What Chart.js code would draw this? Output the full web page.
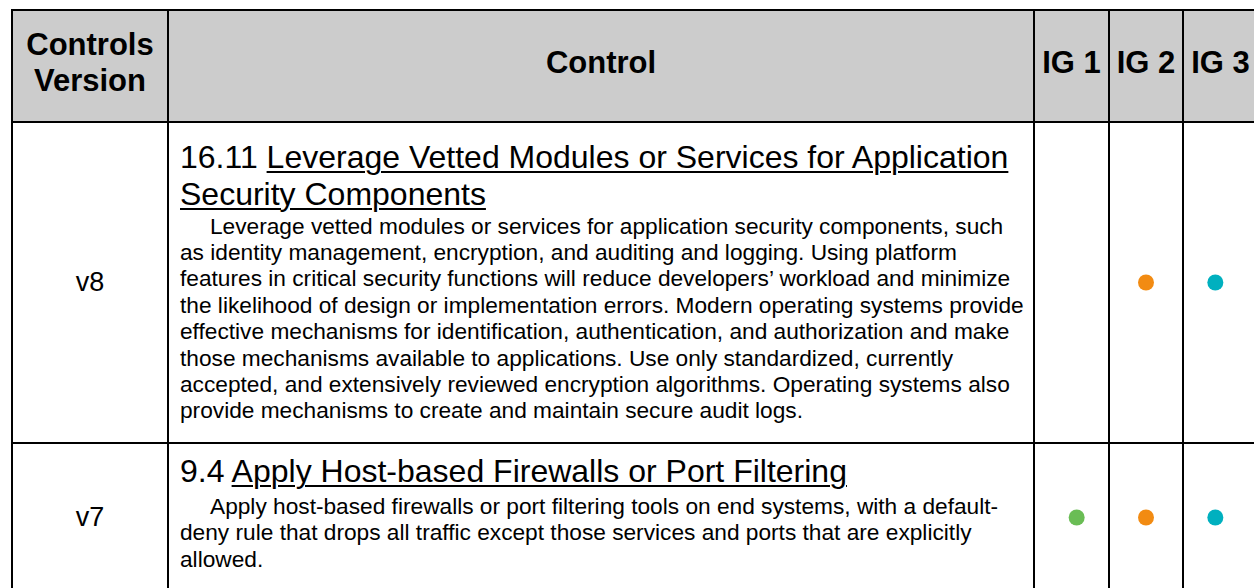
<!DOCTYPE html>
<html>
<head>
<meta charset="utf-8">
<script src="https://cdn.jsdelivr.net/npm/chart.js@4"></script>
<style>
  html, body { margin:0; padding:0; background:#fff; }
  body { width:1254px; height:588px; overflow:hidden; position:relative; font-family:"Liberation Sans", Arial, sans-serif; color:#000; }
  .bg { position:absolute; background:#cccccc; }
  .vline { position:absolute; width:2px; background:#000; }
  .hline { position:absolute; height:2px; background:#000; }
  .cell { position:absolute; box-sizing:border-box; }
  .hdr { display:flex; align-items:center; justify-content:center; text-align:center; font-weight:bold; font-size:31px; line-height:35.6px; padding-bottom:6px; }
  .ver { display:flex; align-items:center; justify-content:center; font-size:27px; }
  .ctl { padding-left:12px; white-space:nowrap; }
  .ttl { font-size:32px; line-height:36.8px; }
  .ttl u { text-decoration-thickness:2px; text-underline-offset:3px; }
  .desc { font-size:22.7px; line-height:26.4px; }
  .desc .first { padding-left:30px; }
  .chart { position:absolute; pointer-events:none; }
</style>
</head>
<body>
<script>
// ---- data ----
const headers = ["Controls<br>Version", "Control", "IG 1", "IG 2", "IG 3"];
const versions = ["v8", "v7"];
const controlIds = ["16.11", "9.4"];
const controlTitleLines = [
  ["Leverage Vetted Modules or Services for Application", "Security Components"],
  ["Apply Host-based Firewalls or Port Filtering"]
];
const descriptionLines = [
  [
    "Leverage vetted modules or services for application security components, such",
    "as identity management, encryption, and auditing and logging. Using platform",
    "features in critical security functions will reduce developers\u2019 workload and minimize",
    "the likelihood of design or implementation errors. Modern operating systems provide",
    "effective mechanisms for identification, authentication, and authorization and make",
    "those mechanisms available to applications. Use only standardized, currently",
    "accepted, and extensively reviewed encryption algorithms. Operating systems also",
    "provide mechanisms to create and maintain secure audit logs."
  ],
  [
    "Apply host-based firewalls or port filtering tools on end systems, with a default-",
    "deny rule that drops all traffic except those services and ports that are explicitly",
    "allowed."
  ]
];
const igLabels = ["IG 1", "IG 2", "IG 3"];
const ig1 = [false, true];
const ig2 = [true, true];
const ig3 = [true, true];
const igColors = ["#6abd55", "#f28b12", "#00b0bf"];

// ---- layout ----
const colX = [12, 168, 1034, 1109, 1183, 1258];
const rowY = [10, 122, 443, 592];
const rowPadTop = [17, 10];
const descGap = [0, 3];

function add(tag, cls, style, html) {
  const el = document.createElement(tag);
  el.className = cls;
  Object.assign(el.style, style);
  if (html !== undefined) el.innerHTML = html;
  document.body.appendChild(el);
  return el;
}

// header background
add("div", "bg", { left: colX[0] + "px", top: rowY[0] + "px", width: (colX[5] - colX[0]) + "px", height: (rowY[1] - rowY[0]) + "px" });

// header texts
headers.forEach((h, i) => {
  add("div", "cell hdr", {
    left: colX[i] + "px", top: rowY[0] + "px",
    width: (colX[i + 1] - colX[i]) + "px", height: (rowY[1] - rowY[0]) + "px"
  }, h);
});

// body rows
versions.forEach((v, r) => {
  const top = rowY[r + 1], h = rowY[r + 2] - rowY[r + 1];
  add("div", "cell ver", { left: colX[0] + "px", top: top + "px", width: (colX[1] - colX[0]) + "px", height: h + "px" }, v);
  const titleHtml = controlIds[r] + " " + controlTitleLines[r].map(l => "<u>" + l + "</u>").join("<br>");
  const descHtml = descriptionLines[r].map((l, i) => i === 0 ? '<span class="first">' + l + '</span>' : l).join("<br>");
  add("div", "cell ctl", {
    left: colX[1] + "px", top: top + "px", width: (colX[2] - colX[1]) + "px", height: h + "px",
    paddingTop: rowPadTop[r] + "px"
  }, '<div class="ttl">' + titleHtml + '</div><div class="desc" style="margin-top:' + descGap[r] + 'px">' + descHtml + '</div>');
});

// grid lines
colX.forEach(x => add("div", "vline", { left: (x - 1) + "px", top: (rowY[0] - 1) + "px", height: (rowY[3] - rowY[0] + 2) + "px" }));
rowY.forEach(y => add("div", "hline", { left: (colX[0] - 1) + "px", top: (y - 1) + "px", width: (colX[5] - colX[0] + 2) + "px" }));

// dots via Chart.js: one small chart per row over the IG columns
const igFlags = [ig1, ig2, ig3];
versions.forEach((v, r) => {
  const top = rowY[r + 1], h = rowY[r + 2] - rowY[r + 1];
  const w = colX[5] - colX[2];
  const canvas = document.createElement("canvas");
  canvas.className = "chart";
  canvas.width = w; canvas.height = h;
  canvas.style.left = colX[2] + "px";
  canvas.style.top = top + "px";
  canvas.style.width = w + "px"; canvas.style.height = h + "px";
  document.body.appendChild(canvas);
  new Chart(canvas, {
    type: "scatter",
    data: {
      datasets: igLabels.map((lab, k) => ({
        label: lab,
        data: igFlags[k][r] ? [{ x: lab, y: v }] : [],
        pointRadius: 8,
        pointBackgroundColor: igColors[k],
        pointBorderWidth: 0,
        showLine: false
      }))
    },
    options: {
      responsive: false,
      animation: false,
      layout: { padding: 0 },
      plugins: { legend: { display: false }, tooltip: { enabled: false } },
      scales: {
        x: { type: "category", labels: igLabels, offset: true, display: false },
        y: { type: "category", labels: [v], offset: true, display: false }
      }
    }
  });
});
</script>
</body>
</html>
